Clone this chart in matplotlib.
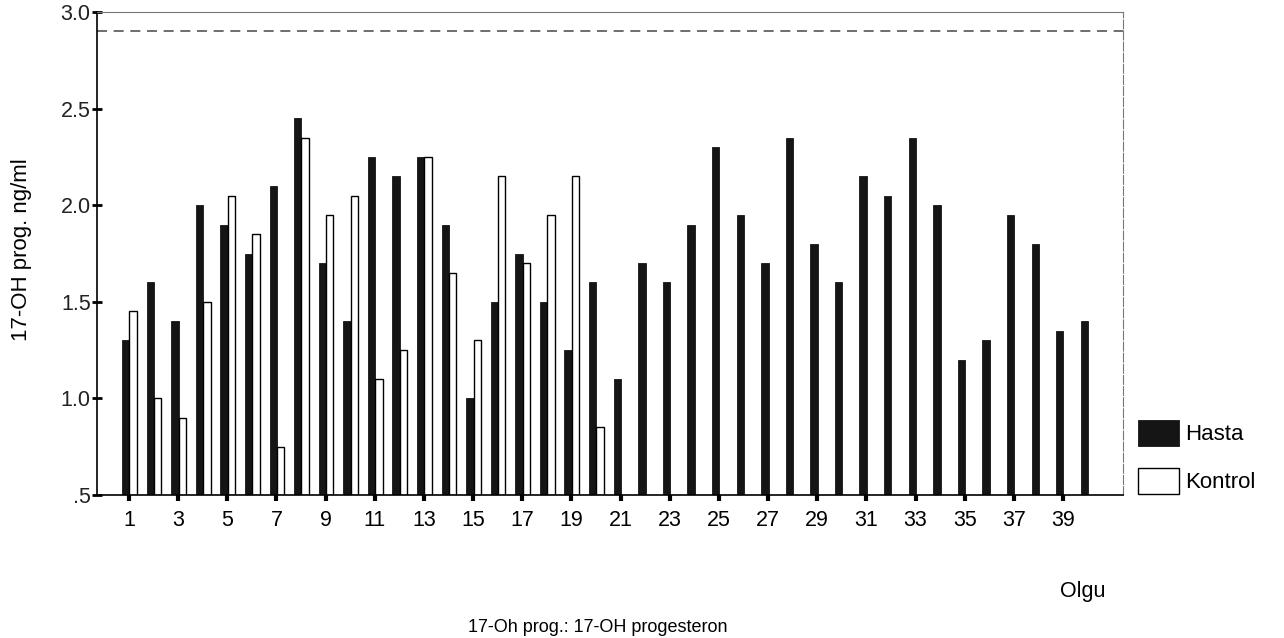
import matplotlib.pyplot as plt
import numpy as np

plt.rcParams['font.family'] = ['Liberation Sans', 'DejaVu Sans']

# cases 1..40
olgu = list(range(1, 41))
hasta = [1.30, 1.60, 1.40, 2.00, 1.90, 1.75, 2.10, 2.45, 1.70, 1.40,
         2.25, 2.15, 2.25, 1.90, 1.00, 1.50, 1.75, 1.50, 1.25, 1.60,
         1.10, 1.70, 1.60, 1.90, 2.30, 1.95, 1.70, 2.35, 1.80, 1.60,
         2.15, 2.05, 2.35, 2.00, 1.20, 1.30, 1.95, 1.80, 1.35, 1.40]
# control group only has 20 cases
kontrol = [1.45, 1.00, 0.90, 1.50, 2.05, 1.85, 0.75, 2.35, 1.95, 2.05,
           1.10, 1.25, 2.25, 1.65, 1.30, 2.15, 1.70, 1.95, 2.15, 0.85]
ref_line = 2.90
xtick_vals = list(range(1, 40, 2))
ytick_vals = [0.5, 1.0, 1.5, 2.0, 2.5, 3.0]
ytick_labels = ['.5', '1.0', '1.5', '2.0', '2.5', '3.0']

fig = plt.figure(figsize=(12.84, 6.38), dpi=100)
ax = fig.add_axes([0.0755, 0.2241, 0.7991, 0.7571])

x = np.array(olgu)
w = 0.30
base = 0.5
ax.bar(x - 0.13, np.array(hasta) - base, width=w, bottom=base,
       color='#151515', edgecolor='#151515', linewidth=0.6, label='Hasta')
xk = np.array(olgu[:len(kontrol)])
ax.bar(xk + 0.17, np.array(kontrol) - base, width=w, bottom=base,
       color='white', edgecolor='black', linewidth=1.0, label='Kontrol')

ax.axhline(ref_line, color='#555555', linestyle=(0, (6, 4)), linewidth=1.2)

ax.set_xlim(-0.30, 41.44)
ax.set_ylim(0.5, 3.0)
ax.set_xticks(xtick_vals)
ax.set_xticklabels([str(v) for v in xtick_vals], fontsize=15.5)
ax.set_yticks(ytick_vals)
ax.set_yticklabels(ytick_labels, fontsize=15.5, color='#222222')
ax.tick_params(axis='x', direction='out', length=4, width=3, pad=7)
ax.tick_params(axis='y', direction='inout', length=7, width=2, pad=1)

for side in ['left', 'bottom']:
    ax.spines[side].set_color('black')
    ax.spines[side].set_linewidth(1.2)
ax.spines['top'].set_color('#777777')
ax.spines['top'].set_linewidth(0.8)
ax.spines['right'].set_color('#777777')
ax.spines['right'].set_linestyle((0, (8, 2)))
ax.spines['right'].set_linewidth(0.8)

fig.text(22 / 1284, 1 - 250 / 638, '17-OH prog. ng/ml', rotation=90,
         ha='center', va='center', fontsize=16)
fig.text(1083 / 1284, 1 - 592 / 638, 'Olgu', ha='center', va='center', fontsize=15.5)
fig.text(598 / 1284, 1 - 627 / 638, '17-Oh prog.: 17-OH progesteron',
         ha='center', va='center', fontsize=13)

fig.legend(loc='upper left', bbox_to_anchor=(1138 / 1284, 1 - 420 / 638),
           frameon=False, fontsize=16, handlelength=1.85, handleheight=1.4,
           handletextpad=0.25, labelspacing=1.0, borderpad=0, borderaxespad=0)

fig.savefig('out.png', dpi=100)
